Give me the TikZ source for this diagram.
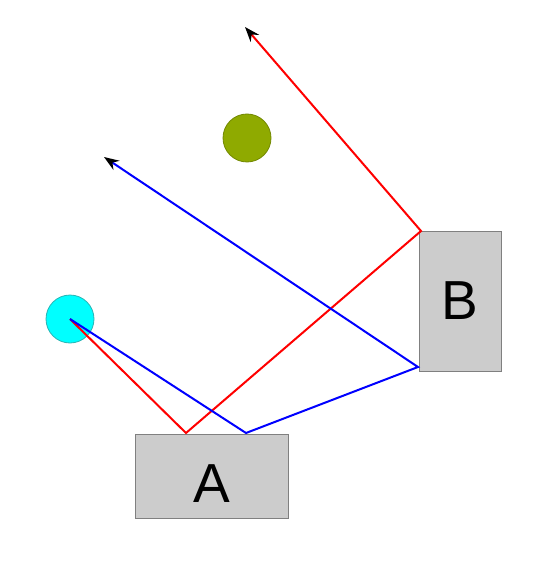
\documentclass[tikz,border=0pt]{standalone}
\usepackage{fontspec}
\setmainfont{Liberation Sans}
\usetikzlibrary{arrows.meta}

\definecolor{boxgray}{RGB}{204,204,204}
\definecolor{olive}{RGB}{143,170,0}
\definecolor{aqua}{RGB}{0,255,255}
\definecolor{aquaedge}{RGB}{40,180,180}

\begin{document}
\begin{tikzpicture}[x=1pt,y=-1pt,line width=2pt,
        >={Stealth[length=15pt,width=11pt,black]},
        box/.style={draw=gray,line width=0.8pt,fill=boxgray,inner sep=0pt,font=\fontsize{55}{55}\selectfont},
        ball/.style={circle,draw,line width=0.8pt,minimum size=48pt,inner sep=0pt}]
      \useasboundingbox (0,0) rectangle (540,561);

      \node[box,minimum width=153pt,minimum height=84pt,text height=53pt] (a) at (211.5,476) {A};
      \node[box,minimum width=82pt,minimum height=140pt] (b) at (460,301) {B};
      \node[ball,fill=aqua,draw=aquaedge] (src) at (70,319) {};
      \node[ball,fill=olive,draw=olive!80!black] (goal) at (247,138) {};

      \coordinate (ra) at (186,433);
      \coordinate (rb) at (421,231);
      \coordinate (rend) at (245,27);
      \coordinate (ba) at (246,433);
      \coordinate (bb) at (418,367);
      \coordinate (bend) at (104,157);

      \draw[red,->] (src.center) -- (ra) -- (rb) -- (rend);
      \draw[blue,->] (src.center) -- (ba) -- (bb) -- (bend);
\end{tikzpicture}
\end{document}
